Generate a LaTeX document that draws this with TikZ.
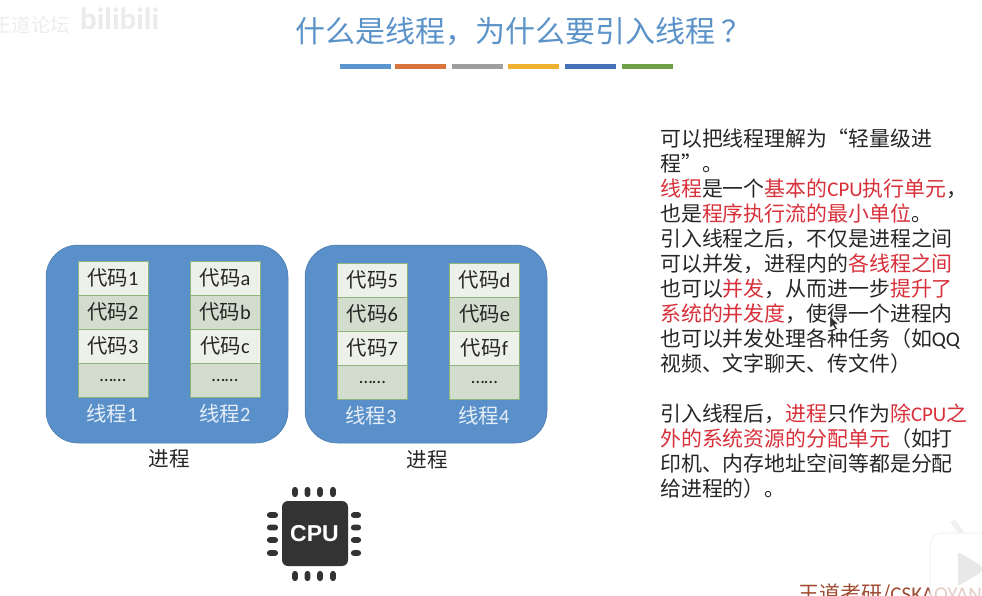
\documentclass[tikz,border=0pt]{standalone}
\usepackage{fontspec}
\setmainfont{Noto Sans CJK SC}
\newfontfamily\latinf{Carlito}
\newfontfamily\chipf{Liberation Sans}
\definecolor{titleblue}{HTML}{5B93C8}
\definecolor{procblue}{HTML}{5A90CA}
\definecolor{rowlight}{HTML}{EDF1EA}
\definecolor{rowdark}{HTML}{D3DDCD}
\definecolor{rowedge}{HTML}{8FB37E}
\definecolor{redtxt}{HTML}{D8303A}
\definecolor{bodytxt}{HTML}{262626}
\definecolor{chip}{HTML}{333333}
\definecolor{footc}{HTML}{A04A30}
\definecolor{bara}{HTML}{5B95D0}
\definecolor{barb}{HTML}{D9743C}
\definecolor{barc}{HTML}{9E9E9E}
\definecolor{bard}{HTML}{F0B030}
\definecolor{bare}{HTML}{4472B8}
\definecolor{barf}{HTML}{6FA046}
\newcommand{\rd}[1]{\textcolor{redtxt}{#1}}
\newcommand{\la}[1]{{\latinf #1}}
\tikzset{
  proc/.style={draw=procblue!85!black,line width=.5pt,fill=procblue,rounded corners=32pt},
  rowA/.style={draw=rowedge,line width=1pt,outer sep=0pt,fill=rowlight,minimum width=70pt,minimum height=34pt,inner sep=0pt,font=\fontsize{20.4}{20}\selectfont,text=black!85},
  rowB/.style={rowA,fill=rowdark},
  thr/.style={text=white!85!procblue,font=\fontsize{20.4}{20}\selectfont,inner sep=0pt},
  proclabel/.style={text=bodytxt,font=\fontsize{20.6}{20}\selectfont,inner sep=0pt},
  para/.style={anchor=west,inner sep=0pt,text=bodytxt,font=\fontsize{20.9}{21}\selectfont},
  bar/.style={minimum width=51pt,minimum height=4.5pt,inner sep=0pt},
  pin/.style={fill=chip,rounded corners=2.6pt}
}
\begin{document}
\begin{tikzpicture}[x=1pt,y=-1pt]
\useasboundingbox (0,0) rectangle (982,595);
\clip (0,0) rectangle (982,595);
\node[font=\fontsize{19.5}{20}\selectfont,text=black!7,inner sep=0pt,anchor=west] (wm1) at (-8,25) {王道论坛};
\node[font=\fontsize{31}{31}\selectfont\bfseries,text=black!8,inner sep=0pt,anchor=west] (wm2) at (80,19) {\la{bilibili}};
\node[text=titleblue,font=\fontsize{30}{30}\selectfont,inner sep=0pt,anchor=west] (title) at (295,31) {什么是线程，为什么要引入线程\hspace{6pt}？};
\foreach \n/\x in {a/365,b/420.5,c/477.5,d/533.5,e/590.5,f/647.5}
  \node[bar,fill=bar\n] (bar\n) at (\x,66.5) {};
\draw[proc] (46,245) rectangle (288,443);
\draw[proc] (305,245) rectangle (547,443);
\foreach \s/\x/\y/\a/\b/\cc in {p/113/261/1/2/3,q/225/261/a/b/c,r/372.5/263/5/6/7,s/484.5/263/d/e/f}{
  \node[rowA,anchor=north] (\s1) at (\x,\y) {代码\la{\a}};
  \node[rowB,anchor=north] (\s2) at (\s1.south) {代码\la{\b}};
  \node[rowA,anchor=north] (\s3) at (\s2.south) {代码\la{\cc}};
  \node[rowB,anchor=north] (\s4) at (\s3.south) {\raisebox{-4pt}{\la{\fontsize{19}{19}\selectfont ……}}};
}
\node[thr] (t1) at (112,414) {线程\la{1}};
\node[thr] (t2) at (225,414) {线程\la{2}};
\node[thr] (t3) at (371,416) {线程\la{3}};
\node[thr] (t4) at (484,416) {线程\la{4}};
\node[proclabel] (c1) at (169,459) {进程};
\node[proclabel] (c2) at (427,460) {进程};
% CPU chip
\fill[chip,rounded corners=6pt] (282,501) rectangle (348,566);
\node[text=white,font=\fontsize{23}{23}\selectfont\bfseries\chipf,inner sep=0pt] (cpu) at (314.5,534) {CPU};
\foreach \v in {295,307.5,320,333}{
  \fill[pin] (\v-2.8,487) rectangle (\v+2.8,497);
  \fill[pin] (\v-2.8,571) rectangle (\v+2.8,581);
}
\foreach \v in {515,527.5,540,553}{
  \fill[pin] (267,\v-2.8) rectangle (278,\v+2.8);
  \fill[pin] (351,\v-2.8) rectangle (361,\v+2.8);
}
% text
\node[para] (l1) at (660,139) {可以把线程理解为“轻量级进};
\node[para] (l2) at (660,164) {程”。};
\node[para] (l3) at (660,189) {\rd{线程}是一个\rd{基本的\la{CPU}执行单元}，};
\node[para] (l4) at (660,214) {也是\rd{程序执行流的最小单位}。};
\node[para] (l5) at (660,239) {引入线程之后，不仅是进程之间};
\node[para] (l6) at (660,264) {可以并发，进程内的\rd{各线程之间}};
\node[para] (l7) at (660,289) {也可以\rd{并发}，从而进一步\rd{提升了}};
\node[para] (l8) at (660,314) {\rd{系统的并发度}，使得一个进程内};
\node[para] (l9) at (660,339) {也可以并发处理各种任务（如\la{QQ}};
\node[para] (l10) at (660,364) {视频、文字聊天、传文件）};
\node[para] (l11) at (660,414) {引入线程后，\rd{进程}只作为\rd{除\la{CPU}之}};
\node[para] (l12) at (660,439) {\rd{外的系统资源的分配单元}（如打};
\node[para] (l13) at (660,464) {印机、内存地址空间等都是分配};
\node[para] (l14) at (660,489) {给进程的）。};
% mouse pointer
\fill[black!80,draw=white,line width=.4pt] (830,316) -- (830,328) -- (833,325.5) -- (835.5,330) -- (837.5,329) -- (835,324.5) -- (838.5,324) -- cycle;
% footer and logo
\node[anchor=west,text=footc,font=\fontsize{21}{21}\selectfont,inner sep=0pt] (foot) at (798,595) {王道考研/\la{CSKAOYAN}};
\fill[white,opacity=.72,rounded corners=12pt] (930,533) rectangle (1000,610);
\draw[black!7,line width=.7pt,rounded corners=12pt] (930,610) -- (930,533) -- (1000,533);
\fill[black!6] (950,522) -- (955,520) -- (965,533) -- (958,533) -- cycle;
\fill[black!9,rounded corners=2pt] (958,552) -- (982,566) -- (982,572) -- (958,586) -- cycle;
\end{tikzpicture}
\end{document}
